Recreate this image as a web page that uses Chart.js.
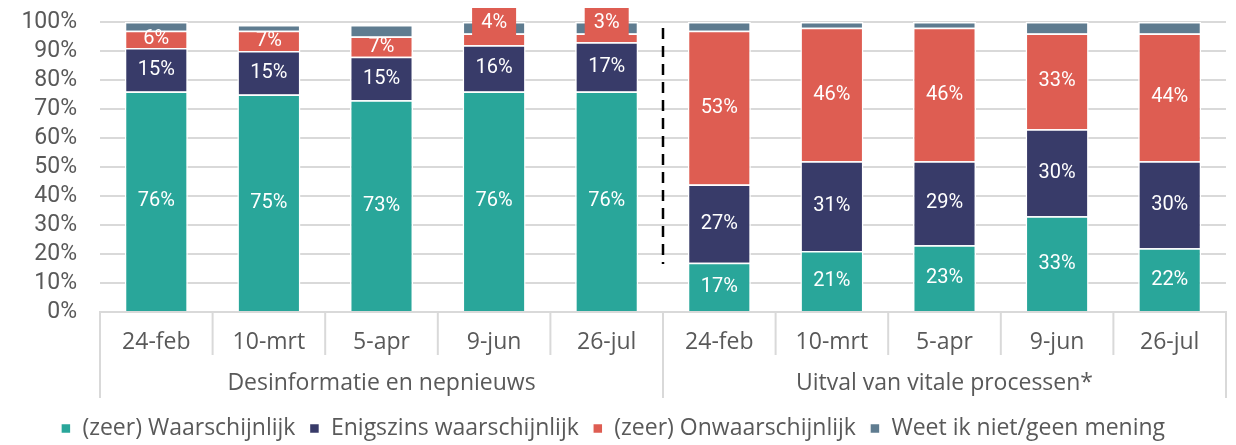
<!DOCTYPE html>
<html>
<head>
<meta charset="utf-8">
<script src="https://cdn.jsdelivr.net/npm/chart.js@4"></script>
<style>
  html, body { margin: 0; padding: 0; background: #fff; }
</style>
</head>
<body>
<canvas id="myChart" width="1236" height="445"></canvas>
<script>
// stacked bars, two groups of five survey dates
const categories = ['24-feb', '10-mrt', '5-apr', '9-jun', '26-jul', '24-feb', '10-mrt', '5-apr', '9-jun', '26-jul'];
const groups = ['Desinformatie en nepnieuws', 'Uitval van vitale processen*'];
const likely = [76, 75, 73, 76, 76, 17, 21, 23, 33, 22];
const somewhat = [15, 15, 15, 16, 17, 27, 31, 29, 30, 30];
const unlikely = [6, 7, 7, 4, 3, 53, 46, 46, 33, 44];
const dontKnow = [3, 2, 4, 4, 4, 3, 2, 2, 4, 4];
const yTicks = [0, 10, 20, 30, 40, 50, 60, 70, 80, 90, 100];

const sideFont = "'Open Sans', 'Noto Sans', sans-serif";
const numFont = "Roboto, sans-serif";
const grey = '#595959';

// value labels inside the segments, small ones get a box on top
const valueLabels = {
    id: 'valueLabels',
    afterDatasetsDraw(chart) {
        const ctx = chart.ctx;
        const y = chart.scales.y;
        ctx.save();
        ctx.font = '20px ' + numFont;
        ctx.textAlign = 'center';
        ctx.textBaseline = 'middle';
        for (let d = 0; d < 3; d++) {
            const meta = chart.getDatasetMeta(d);
            meta.data.forEach((bar, i) => {
                const v = chart.data.datasets[d].data[i];
                const txt = v + '%';
                if (d === 2 && v < 5) {
                    const cy = y.getPixelForValue(100) + 1;
                    ctx.fillStyle = chart.data.datasets[d].backgroundColor;
                    ctx.fillRect(bar.x - 22, cy - 15, 44, 30);
                    ctx.fillStyle = '#fff';
                    ctx.fillText(txt, bar.x, cy);
                } else {
                    ctx.fillStyle = '#fff';
                    ctx.fillText(txt, bar.x, (bar.y + bar.base) / 2);
                }
            });
        }
        // dashed divider between the two groups
        const x = chart.scales.x;
        const mid = (x.getPixelForValue(4) + x.getPixelForValue(5)) / 2;
        ctx.strokeStyle = '#000';
        ctx.lineWidth = 2.5;
        ctx.setLineDash([11, 7]);
        ctx.beginPath();
        ctx.moveTo(mid, chart.chartArea.top + 6);
        ctx.lineTo(mid, chart.chartArea.bottom - 48);
        ctx.stroke();
        ctx.restore();
    }
};

// second level of the category axis
const groupAxis = {
    id: 'groupAxis',
    afterDraw(chart) {
        const ctx = chart.ctx;
        const x = chart.scales.x;
        const area = chart.chartArea;
        const step = x.getPixelForValue(1) - x.getPixelForValue(0);
        ctx.save();
        ctx.strokeStyle = '#d9d9d9';
        ctx.lineWidth = 2;
        for (let i = 0; i <= categories.length; i++) {
            const px = x.getPixelForValue(i) - step / 2;
            const len = i % 5 === 0 ? 86 : 43;
            ctx.beginPath();
            ctx.moveTo(px, area.bottom);
            ctx.lineTo(px, area.bottom + len);
            ctx.stroke();
        }
        ctx.fillStyle = grey;
        ctx.font = '23px ' + sideFont;
        ctx.textAlign = 'center';
        ctx.textBaseline = 'middle';
        groups.forEach((g, k) => {
            const a = x.getPixelForValue(k * 5) - step / 2;
            const b = x.getPixelForValue(k * 5 + 4) + step / 2;
            ctx.fillText(g, (a + b) / 2, area.bottom + 71);
        });
        ctx.restore();
    }
};

const ctx = document.getElementById('myChart').getContext('2d');
new Chart(ctx, {
    type: 'bar',
    data: {
        labels: categories,
        datasets: [
            { label: '(zeer) Waarschijnlijk', data: likely, backgroundColor: '#29a69a' },
            { label: 'Enigszins waarschijnlijk', data: somewhat, backgroundColor: '#383b69' },
            { label: '(zeer) Onwaarschijnlijk', data: unlikely, backgroundColor: '#de5d52' },
            { label: 'Weet ik niet/geen mening', data: dontKnow, backgroundColor: '#5f7c90' }
        ]
    },
    options: {
        responsive: false,
        animation: false,
        devicePixelRatio: 1,
        layout: { padding: { top: 22, right: 10, left: 0, bottom: -5 } },
        datasets: {
            bar: {
                borderColor: '#fff',
                borderWidth: 1.5,
                barPercentage: 0.56,
                categoryPercentage: 1
            }
        },
        plugins: {
            tooltip: { enabled: false },
            legend: {
                position: 'bottom',
                labels: {
                    usePointStyle: true,
                    pointStyle: 'rect',
                    boxWidth: 10,
                    boxHeight: 10,
                    padding: 14,
                    color: grey,
                    font: { family: sideFont, size: 23 }
                }
            }
        },
        scales: {
            x: {
                stacked: true,
                grid: { display: false },
                border: { color: '#d9d9d9', width: 2 },
                ticks: {
                    color: grey,
                    padding: 9,
                    maxRotation: 0,
                    font: { family: sideFont, size: 23 }
                },
                afterFit(scale) { scale.height = 91; }
            },
            y: {
                stacked: true,
                min: 0,
                max: 100,
                afterBuildTicks(scale) { scale.ticks = yTicks.map(v => ({ value: v })); },
                afterFit(scale) {
                    scale.width = 100;
                    scale.paddingTop = 0;
                    scale.paddingBottom = 0;
                },
                grid: { color: '#d9d9d9', lineWidth: 2, drawTicks: false },
                border: { display: false },
                ticks: {
                    color: grey,
                    padding: 23,
                    autoSkip: false,
                    font: { family: numFont, size: 23 },
                    callback: v => v + '%'
                }
            }
        }
    },
    plugins: [valueLabels, groupAxis]
});
</script>
</body>
</html>
